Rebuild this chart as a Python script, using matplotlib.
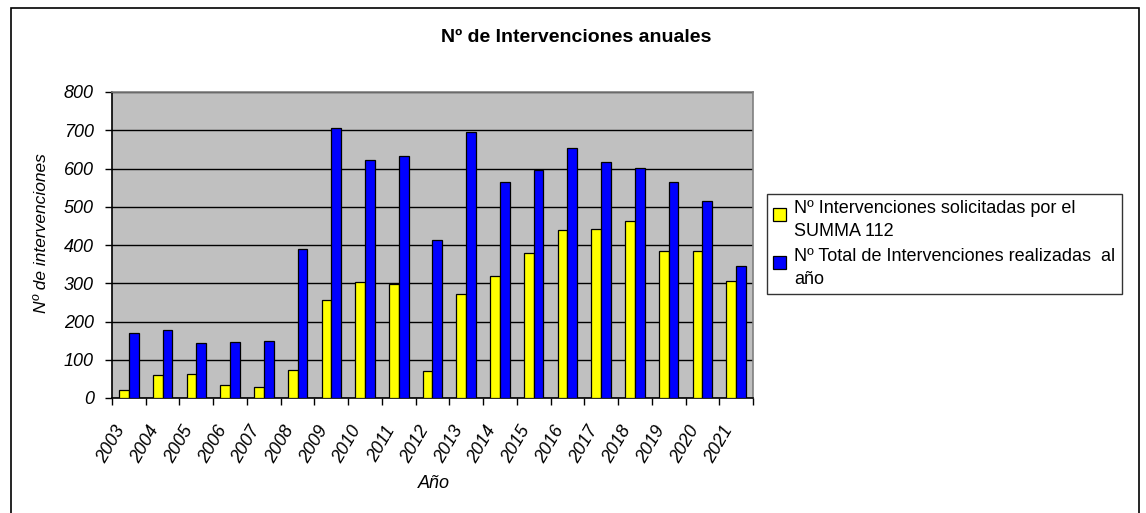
import numpy as np
import matplotlib.pyplot as plt
from matplotlib.patches import Rectangle, Patch
from matplotlib.legend_handler import HandlerPatch

years = ['2003', '2004', '2005', '2006', '2007', '2008', '2009', '2010', '2011', '2012',
         '2013', '2014', '2015', '2016', '2017', '2018', '2019', '2020', '2021']
summa = [22, 60, 64, 35, 28, 73, 255, 304, 297, 70,
         271, 319, 378, 438, 442, 463, 384, 384, 307]
total = [169, 177, 144, 146, 150, 390, 707, 622, 632, 412,
         696, 564, 596, 654, 617, 602, 564, 515, 345]
label_summa = 'Nº Intervenciones solicitadas por el\nSUMMA 112'
label_total = 'Nº Total de Intervenciones realizadas  al\naño'

plt.rcParams['font.family'] = ['Liberation Sans', 'DejaVu Sans']


class TopSquare(HandlerPatch):
    # legend key drawn as a small square next to the first text line
    def create_artists(self, legend, orig_handle, xdescent, ydescent, width, height,
                       fontsize, trans):
        s = fontsize * 0.72
        p = Rectangle((-xdescent, -ydescent + height - s * 1.2), s, s,
                      facecolor=orig_handle.get_facecolor(), edgecolor='black',
                      linewidth=0.9, transform=trans)
        return [p]


W, H = 1146, 513
fig = plt.figure(figsize=(W / 100, H / 100), dpi=100)
fig.patch.set_facecolor('white')

# outer chart frame
fig.patches.append(Rectangle((11 / W, -0.02), (1139 - 11) / W, 1 - 8 / H + 0.02,
                             transform=fig.transFigure, fill=False,
                             edgecolor='black', linewidth=1.2))

ax = fig.add_axes([112 / W, (H - 398) / H, (753 - 112) / W, 306 / H])
ax.set_facecolor('#C0C0C0')

x = np.arange(len(years))
bw = 0.29
ax.bar(x - bw / 2, summa, bw, color='#FFFF00', edgecolor='black', linewidth=0.9, zorder=3)
ax.bar(x + bw / 2, total, bw, color='#0000FF', edgecolor='black', linewidth=0.9, zorder=3)

ax.set_xlim(-0.5, len(years) - 0.5)
ax.set_ylim(0, 800)
ax.set_yticks(np.arange(0, 801, 100))
ax.yaxis.grid(True, color='black', linewidth=1.0, zorder=1)
ax.set_axisbelow(True)

ax.set_xticks(x)
ax.set_xticklabels(years, rotation=60, ha='right', fontsize=13, style='italic')
ax.set_xticks(np.arange(-0.5, len(years), 1), minor=True)
ax.tick_params(axis='x', which='major', length=0, pad=18)
ax.tick_params(axis='x', which='minor', length=5, width=1, direction='out')
ax.tick_params(axis='y', length=5, width=1, direction='out', pad=8)
for t in ax.get_yticklabels():
    t.set_fontsize(13)
    t.set_style('italic')

for side in ['left', 'bottom']:
    ax.spines[side].set_color('black')
    ax.spines[side].set_linewidth(1.2)
for side in ['top', 'right']:
    ax.spines[side].set_color('#808080')
    ax.spines[side].set_linewidth(1.2)

fig.text(576 / W, 1 - 37 / H, 'Nº de Intervenciones anuales', ha='center', va='center',
         fontsize=14, fontweight='bold')
fig.text(42 / W, 1 - 233 / H, 'Nº de intervenciones', ha='center', va='center',
         rotation=90, fontsize=12.5, style='italic')
fig.text(434 / W, 1 - 484 / H, 'Año', ha='center', va='center',
         fontsize=13, style='italic')

h1 = Patch(facecolor='#FFFF00', edgecolor='black')
h2 = Patch(facecolor='#0000FF', edgecolor='black')
leg = fig.legend(handles=[h1, h2], labels=[label_summa, label_total],
                 loc='center left', bbox_to_anchor=(767 / W, 1 - 244 / H),
                 fontsize=13, frameon=True, fancybox=False, edgecolor='black',
                 handlelength=0.75, handleheight=2.2, handletextpad=0.4,
                 labelspacing=0.4, borderpad=0.35, borderaxespad=0,
                 handler_map={Patch: TopSquare()})
leg.get_frame().set_linewidth(1.0)
for t in leg.get_texts():
    t.set_linespacing(1.5)

fig.savefig('out.png', dpi=100)
